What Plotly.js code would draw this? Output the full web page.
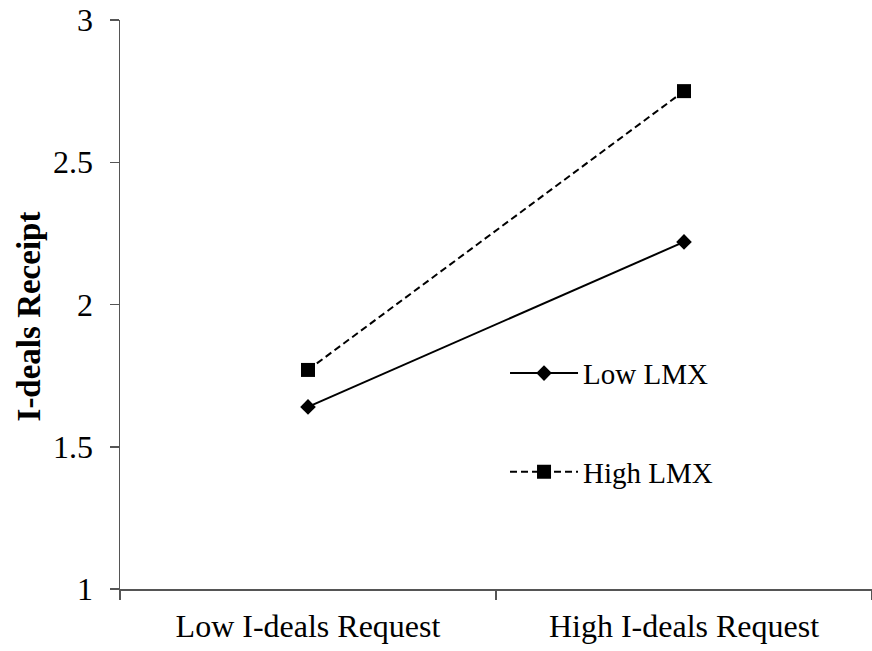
<!DOCTYPE html>
<html>
<head>
<meta charset="utf-8">
<script src="https://cdn.plot.ly/plotly-3.0.1.min.js"></script>
<style>html,body{margin:0;padding:0;background:#fff;}#chart{width:872px;height:651px;}</style>
</head>
<body>
<div id="chart"></div>
<script>
var categories = ["Low I-deals Request", "High I-deals Request"];
var lowLMX = [1.64, 2.22];
var highLMX = [1.77, 2.75];
var seriesNames = ["Low LMX", "High LMX"];
var yTicks = [1, 1.5, 2, 2.5, 3];
var yTickLabels = ["1", "1.5", "2", "2.5", "3"];
var yTitle = "I-deals Receipt";

var fontFam = '"Liberation Serif", "Times New Roman", serif';

var traces = [
  {
    x: categories, y: lowLMX, name: seriesNames[0], type: 'scatter', mode: 'lines+markers',
    legendgroup: 'a',
    line: {color: '#000', width: 2, dash: 'solid'},
    marker: {symbol: 'diamond', size: 12, color: '#000'}
  },
  {
    x: categories, y: highLMX, name: seriesNames[1], type: 'scatter', mode: 'lines+markers',
    legendgroup: 'b',
    line: {color: '#000', width: 2, dash: '7px,4px'},
    marker: {symbol: 'square', size: 14, color: '#000'}
  }
];

var layout = {
  width: 872, height: 651,
  margin: {l: 120, r: 0, t: 20, b: 62},
  paper_bgcolor: '#fff', plot_bgcolor: '#fff',
  font: {family: fontFam, size: 29, color: '#000'},
  showlegend: true,
  legend: {
    x: 0.512, y: 0.424, xanchor: 'left', yanchor: 'top',
    traceorder: 'grouped', tracegroupgap: 58,
    bgcolor: 'rgba(0,0,0,0)', font: {family: fontFam, size: 29, color: '#000'},
    itemwidth: 68
  },
  xaxis: {
    type: 'category', range: [-0.5, 1.5],
    showline: true, linecolor: '#555', linewidth: 1.5,
    ticks: 'outside', ticklen: 9, tickcolor: '#555', tickwidth: 1.5,
    tickson: 'boundaries', ticklabelstandoff: 8,
    showgrid: false, zeroline: false, fixedrange: true,
    tickfont: {family: fontFam, size: 32, color: '#000'}
  },
  yaxis: {
    range: [1, 3], tickvals: yTicks, ticktext: yTickLabels,
    showline: true, linecolor: '#555', linewidth: 1.5,
    ticks: 'outside', ticklen: 9, tickcolor: '#555', tickwidth: 1.5,
    ticklabelstandoff: 10,
    showgrid: false, zeroline: false, fixedrange: true,
    tickfont: {family: fontFam, size: 32, color: '#000'}
  },
  annotations: [{
    text: '<b>' + yTitle + '</b>', xref: 'paper', yref: 'paper',
    x: -0.121, y: 0.479, xanchor: 'center', yanchor: 'middle',
    textangle: -90, showarrow: false,
    font: {family: fontFam, size: 33, color: '#000'}
  }]
};

Plotly.newPlot('chart', traces, layout, {displayModeBar: false, staticPlot: true});
</script>
</body>
</html>
